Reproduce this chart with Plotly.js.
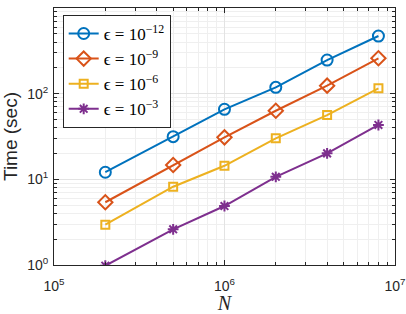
<!DOCTYPE html>
<html><head><meta charset="utf-8">
<script src="https://cdn.plot.ly/plotly-3.0.1.min.js"></script>
<style>html,body{margin:0;padding:0;background:#fff}#c{width:406px;height:314px}</style>
</head><body><div id="c"></div>
<script>
const N = [2e5, 5e5, 1e6, 2e6, 4e6, 8e6];
const eps12 = [12.1, 31.5, 65.7, 118.6, 247, 471];
const eps9 = [5.4, 14.7, 30.9, 63.2, 124, 259];
const eps6 = [2.95, 8.2, 14.4, 30.1, 56.3, 115.5];
const eps3 = [0.98, 2.61, 4.88, 10.7, 20.1, 43.1];
const names = ['ϵ = 10<sup>−12</sup>', 'ϵ = 10<sup>−9</sup>', 'ϵ = 10<sup>−6</sup>', 'ϵ = 10<sup>−3</sup>'];
const xTickVals = [1e5, 1e6, 1e7];
const xTickText = ['10<sup>5</sup>', '10<sup>6</sup>', '10<sup>7</sup>'];
const yTickVals = [1, 10, 100, 1000];
const yTickText = ['10<sup>0</sup>', '10<sup>1</sup>', '10<sup>2</sup>', '10<sup>3</sup>'];
const colors = ['#0072BD', '#D95319', '#EDB120', '#7E2F8E'];
const symbols = ['circle-open', 'diamond-open', 'square-open', 'asterisk-open'];
const sizes = [11, 11, 8, 9];
const series = [eps12, eps9, eps6, eps3];

const traces = series.map((y, i) => ({
  x: N, y: y, name: names[i], type: 'scatter', mode: 'lines+markers',
  line: {color: colors[i], width: 2},
  marker: {symbol: symbols[i], size: sizes[i], color: colors[i], line: {color: colors[i], width: 2}}
}));

const axisCommon = {
  type: 'log', showline: true, mirror: 'ticks', linecolor: '#262626', linewidth: 1,
  ticks: 'inside', ticklen: 5, tickcolor: '#262626', tickmode: 'array',
  showgrid: true, gridcolor: '#e3e3e3', gridwidth: 1, zeroline: false,
  tickfont: {family: 'Liberation Sans, Arial', size: 14, color: '#262626'},
  minor: {showgrid: true, gridcolor: '#efefef', ticks: 'inside', ticklen: 3, tickcolor: '#262626', dtick: 'D1'}
};

const layout = {
  width: 406, height: 314,
  margin: {l: 54, r: 11, t: 8, b: 49},
  paper_bgcolor: '#fff', plot_bgcolor: '#fff',
  showlegend: true,
  legend: {x: 0.0255, y: 0.973, xanchor: 'left', yanchor: 'top',
    bgcolor: '#fff', bordercolor: '#262626', borderwidth: 1,
    font: {family: 'Liberation Serif, DejaVu Serif', size: 17, color: '#000'},
    tracegroupgap: 0, itemwidth: 30},
  xaxis: Object.assign({}, axisCommon, {range: [5, 7.0003], tickvals: xTickVals, ticktext: xTickText,
    ticklabelstandoff: 8,
    title: {text: '<i>N</i>', font: {family: 'Liberation Serif, DejaVu Serif', size: 20, color: '#262626'}, standoff: 2}}),
  yaxis: Object.assign({}, axisCommon, {range: [-0.0003, 3.0003], tickvals: yTickVals, ticktext: yTickText,
    ticklabelstandoff: 2,
    title: {text: 'Time (sec)', font: {family: 'Liberation Sans, Arial', size: 19, color: '#262626'}, standoff: 4}})
};

Plotly.newPlot('c', traces, layout, {staticPlot: true, displayModeBar: false});
</script>
</body></html>
